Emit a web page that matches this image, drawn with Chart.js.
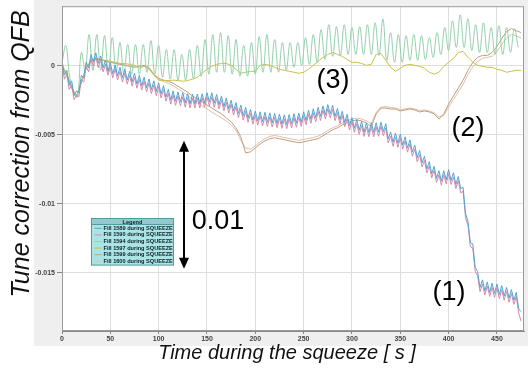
<!DOCTYPE html>
<html>
<head>
<meta charset="utf-8">
<script src="https://cdn.jsdelivr.net/npm/chart.js@4/dist/chart.umd.min.js"></script>
<style>
html,body{margin:0;padding:0;background:#ffffff;}
#wrap{position:relative;width:528px;height:370px;}
</style>
</head>
<body>
<div id="wrap"><canvas id="c" width="528" height="370"></canvas></div>
<script>
// ---------- data ----------
const seriesNames = [
  'Fill 1589 during SQUEEZE','Fill 1590 during SQUEEZE','Fill 1594 during SQUEEZE',
  'Fill 1597 during SQUEEZE','Fill 1599 during SQUEEZE','Fill 1600 during SQUEEZE'
];
const xTitle = 'Time during the squeeze [ s ]';
const yTitle = 'Tune correction from QFB';

const bandStep = 2.5;   // s between samples of fills 1589 / 1590
const greenStep = 4;    // s between samples of fill 1594
const slowStep = 5;     // s between samples of fills 1597 / 1599 / 1600

const fill1589 = [0.00038,-0.00068,-0.00034,-0.00142,-0.0011,-0.00216,-0.00183,-0.00195,-0.0007,-0.0009,
0.00025,-0.00015,0.0008,0.00025,0.00092,0.00016,0.0007,-0.00015,0.0004,-0.0004,
0.0002,-0.00058,0.00004,-0.00074,-0.00012,-0.00089,-0.00026,-0.00104,-0.00041,-0.00118,
-0.00055,-0.00133,-0.0007,-0.00147,-0.00084,-0.0016,-0.00097,-0.00173,-0.0011,-0.00187,
-0.00124,-0.00204,-0.00145,-0.00227,-0.00172,-0.00249,-0.00183,-0.00257,-0.0019,-0.00262,
-0.00196,-0.0027,-0.00203,-0.00276,-0.00206,-0.00276,-0.00206,-0.00276,-0.00203,-0.0027,
-0.00196,-0.00262,-0.00196,-0.00272,-0.00208,-0.00283,-0.0022,-0.00297,-0.00234,-0.00312,
-0.0025,-0.00328,-0.00267,-0.00346,-0.00285,-0.00364,-0.00302,-0.0038,-0.00317,-0.00394,
-0.00329,-0.00401,-0.00334,-0.00406,-0.00338,-0.0041,-0.00342,-0.00414,-0.00346,-0.00419,
-0.00351,-0.00423,-0.00356,-0.00427,-0.00354,-0.0042,-0.00348,-0.00416,-0.00343,-0.0041,
-0.00334,-0.00398,-0.00323,-0.00388,-0.00312,-0.00377,-0.00302,-0.00367,-0.00292,-0.00357,
-0.00282,-0.00348,-0.00288,-0.00368,-0.0031,-0.0039,-0.0033,-0.00412,-0.00353,-0.00435,
-0.00376,-0.00453,-0.0039,-0.00467,-0.00405,-0.00482,-0.00414,-0.00484,-0.00414,-0.00484,
-0.00413,-0.00481,-0.00409,-0.00477,-0.0042,-0.0053,-0.0048,-0.00554,-0.00488,-0.00561,
-0.00495,-0.00575,-0.00515,-0.00596,-0.00537,-0.00626,-0.00575,-0.00665,-0.00614,-0.00703,
-0.00656,-0.00747,-0.00695,-0.00782,-0.00728,-0.00815,-0.0076,-0.00835,-0.0076,-0.00826,
-0.00752,-0.0083,-0.00775,-0.0086,-0.00802,-0.0089,-0.0088,-0.0107,-0.01125,-0.0128,
-0.0129,-0.0146,-0.0149,-0.01605,-0.0155,-0.0163,-0.01565,-0.0164,-0.01574,-0.01647,
-0.0158,-0.01656,-0.01592,-0.01668,-0.01605,-0.01682,-0.0162,-0.01697,-0.0164,-0.0176,
-0.0178];

const fill1590 = [0.00008,-0.00098,-0.00064,-0.00172,-0.0014,-0.00246,-0.00213,-0.00225,-0.001,-0.0012,
-0.00005,-0.00045,0.0005,-0.00005,0.00062,-0.00014,0.0004,-0.00045,0.0001,-0.0007,
-0.0001,-0.00088,-0.00026,-0.00104,-0.00042,-0.00119,-0.00056,-0.00134,-0.00071,-0.00148,
-0.00085,-0.00163,-0.001,-0.00177,-0.00114,-0.0019,-0.00127,-0.00203,-0.0014,-0.00217,
-0.00154,-0.00234,-0.00175,-0.00257,-0.00202,-0.00279,-0.00213,-0.00287,-0.0022,-0.00292,
-0.00226,-0.003,-0.00233,-0.00306,-0.00236,-0.00306,-0.00236,-0.00306,-0.00233,-0.003,
-0.00226,-0.00292,-0.00226,-0.00302,-0.00238,-0.00313,-0.0025,-0.00327,-0.00264,-0.00342,
-0.0028,-0.00358,-0.00297,-0.00376,-0.00315,-0.00394,-0.00332,-0.0041,-0.00347,-0.00424,
-0.00359,-0.00431,-0.00364,-0.00436,-0.00368,-0.0044,-0.00372,-0.00444,-0.00376,-0.00449,
-0.00381,-0.00453,-0.00386,-0.00457,-0.00384,-0.0045,-0.00378,-0.00446,-0.00373,-0.0044,
-0.00364,-0.00428,-0.00353,-0.00418,-0.00342,-0.00407,-0.00332,-0.00397,-0.00322,-0.00387,
-0.00312,-0.00378,-0.00318,-0.00398,-0.0034,-0.0042,-0.0036,-0.00442,-0.00383,-0.00465,
-0.00406,-0.00483,-0.0042,-0.00497,-0.00435,-0.00512,-0.00444,-0.00514,-0.00444,-0.00514,
-0.00443,-0.00511,-0.00439,-0.00507,-0.0045,-0.0056,-0.0051,-0.00584,-0.00518,-0.00591,
-0.00525,-0.00605,-0.00545,-0.00626,-0.00567,-0.00656,-0.00605,-0.00695,-0.00644,-0.00733,
-0.00686,-0.00777,-0.00725,-0.00812,-0.00758,-0.00845,-0.0079,-0.00865,-0.0079,-0.00856,
-0.00782,-0.0086,-0.00805,-0.0089,-0.00832,-0.0092,-0.0091,-0.011,-0.01155,-0.0131,
-0.0132,-0.0149,-0.0152,-0.01635,-0.0158,-0.0166,-0.01595,-0.0167,-0.01604,-0.01677,
-0.0161,-0.01686,-0.01622,-0.01698,-0.01635,-0.01712,-0.0165,-0.01727,-0.0167,-0.0179,
-0.0185];

const fill1594 = [0.00024,0.00146,-0.00084,-0.00192,-0.00227,0.00095,-0.00034,0.00225,-0.00034,0.00225,
-0.00034,0.00217,-0.00048,0.00203,-0.00048,0.00167,-0.00062,0.00153,-0.00062,0.00153,
-0.00062,0.00153,-0.00048,0.00182,-0.00062,0.00146,-0.00084,0.00117,-0.00098,0.00117,
-0.00105,0.00081,-0.00105,0.00117,-0.00091,0.00146,-0.00077,0.00189,-0.00062,0.00225,
-0.00048,0.00239,-0.00048,0.00217,-0.00062,0.00189,-0.00077,0.00146,-0.00077,0.00167,
-0.00062,0.0021,-0.00048,0.00225,-0.00048,0.00189,-0.00048,0.00167,-0.00034,0.00167,
-0.00012,0.00167,0.00002,0.00203,0.00009,0.00225,0.00024,0.0026,0.00045,0.00296,
0.00067,0.00282,0.00074,0.00296,0.00081,0.00275,0.00081,0.00282,0.00081,0.00296,
0.00081,0.0031,0.00074,0.00339,0.00038,0.00239,0.00024,0.00225,0.00024,0.00217,
0.00038,0.00225,0.00038,0.00217,0.00045,0.00203,0.0006,0.00239,0.00081,0.00275,
0.0011,0.00325,0.00131,0.00368,0.00131,0.00339,0.0011,0.00296,0.00095,0.0031,
0.00095,0.00275,0.00081,0.00289,0.00081,0.00275,0.00095,0.00268,0.00131];

const fill1597 = [0.00002,-0.00062,-0.00156,-0.0022,-0.0012,-0.00019,0.00031,0.00045,0.00045,0.00038,
0.00031,0.00024,0.00016,0.00016,0.00009,0.00002,-0.00019,-0.00005,-0.00012,-0.00062,
-0.00105,-0.00108,-0.00108,-0.00105,-0.00108,-0.00113,-0.00108,-0.00098,-0.00084,-0.00055,
-0.00027,-0.00005,0.00009,0.00016,0.00016,0.00002,-0.00027,-0.00055,-0.00048,-0.00041,
-0.00041,0.00002,0.00009,0.00002,-0.00012,-0.00027,-0.00034,-0.00041,-0.00048,-0.00055,
-0.00048,-0.00027,0.00002,0.00031,0.0006,0.00081,0.00095,0.00081,0.00067,0.00045,
0.00024,0.00024,0.00016,0.00002,0.00009,0.00081,0.00088,0.00038,-0.00012,-0.00041,
-0.00019,0.00002,0.00009,0.00002,-0.00005,-0.00019,-0.00048,-0.00062,-0.00048,-0.00005,
0.00024,0.00052,0.00095,0.00103,0.0006,0.00024,0.00002,-0.00005,-0.00012,-0.00012,
-0.00027,-0.00034,-0.00048,-0.00041,-0.00034,-0.00034];

const fill1599 = [0.00002,-0.0007,-0.00163,-0.00227,-0.0012,-0.00019,0.00038,0.00052,0.00045,0.00031,
0.00024,0.00016,0.00009,0.00002,-0.00005,-0.00012,-0.00005,0.00002,-0.00019,-0.00062,
-0.00091,-0.00105,-0.00113,-0.00127,-0.00149,-0.00171,-0.00192,-0.0022,-0.00242,-0.00263,
-0.00285,-0.00307,-0.00328,-0.00349,-0.00378,-0.00407,-0.0045,-0.00515,-0.00631,-0.00624,
-0.00596,-0.00567,-0.00544,-0.00529,-0.00522,-0.00529,-0.00536,-0.00544,-0.00551,-0.00558,
-0.00551,-0.00544,-0.00536,-0.00529,-0.00507,-0.00486,-0.00464,-0.0045,-0.00429,-0.00415,
-0.004,-0.00393,-0.004,-0.00415,-0.00443,-0.0035,-0.00307,-0.00307,-0.00314,-0.00314,
-0.00328,-0.00321,-0.00314,-0.00321,-0.00335,-0.00328,-0.00335,-0.00349,-0.00386,-0.00349,
-0.00278,-0.0022,-0.00163,-0.00105,-0.00034,0.00024,0.0006,0.00074,0.00074,0.00095,
0.00138,0.00196,0.00246,0.00268,0.00253,0.00239];

const fill1600 = [0.00005,-0.00066,-0.0016,-0.00224,-0.00125,-0.00022,0.00034,0.00048,0.00042,0.00034,
0.00027,0.00019,0.00012,0.00005,-0.00002,-0.00009,-0.00002,-0.00002,-0.00026,-0.0007,
-0.001,-0.00115,-0.00127,-0.00145,-0.00168,-0.00192,-0.00215,-0.00245,-0.0027,-0.00292,
-0.00314,-0.00336,-0.00357,-0.00378,-0.004,-0.00428,-0.00466,-0.0054,-0.00595,-0.00605,
-0.0058,-0.00552,-0.00527,-0.00512,-0.00505,-0.00512,-0.0052,-0.00527,-0.00534,-0.0054,
-0.00534,-0.00527,-0.0052,-0.0051,-0.00492,-0.0047,-0.0045,-0.00436,-0.00415,-0.004,
-0.00386,-0.0038,-0.00386,-0.004,-0.0042,-0.0034,-0.003,-0.00296,-0.00303,-0.00307,
-0.00318,-0.00314,-0.00307,-0.00314,-0.00325,-0.00321,-0.00328,-0.0034,-0.00372,-0.0036,
-0.003,-0.00245,-0.0019,-0.00135,-0.00065,-0.0001,0.0003,0.00052,0.0006,0.00067,
0.001,0.00153,0.002,0.00225,0.00215,0.002];

const xTicks = [0,50,100,150,200,250,300,350,400,450];
const yTicks = [0,-0.005,-0.01,-0.015];
const xRange = [0,478];
const yRange = [-0.0192,0.0043];

const annotationTexts = ['(3)','(2)','(1)','0.01'];
const annotationT = [280.4,420.1,400.4,161.4];
const annotationV = [-0.00107,-0.00458,-0.01641,-0.01125];
const arrowT = 126.2;
const arrowFrom = -0.00544;
const arrowTo = -0.01469;
const legendAnchorT = 30.0;
const legendAnchorV = -0.01103;

// ---------- styling ----------
const colors = ['#55a3d3','#d68aa9','#92d0ab','#c9c046','#c49c7c','#dcc0aa'];
const steps = [bandStep,bandStep,greenStep,slowStep,slowStep,slowStep];
const values = [fill1589,fill1590,fill1594,fill1597,fill1599,fill1600];

function toPoints(vals, step){ return vals.map((v,i)=>({x:i*step, y:v})); }

const datasets = values.map((vals,k)=>({
  label: seriesNames[k],
  data: toPoints(vals, steps[k]),
  borderColor: colors[k],
  backgroundColor: colors[k],
  borderWidth: 1,
  pointRadius: 0,
  fill: false,
  tension: k===2 ? 0.4 : 0
}));

const FONT = 'Liberation Sans, Arial, sans-serif';

const bgPlugin = {
  id:'bg',
  beforeDraw(chart){
    const {ctx, chartArea:a, width, height} = chart;
    ctx.save();
    ctx.fillStyle='#ffffff'; ctx.fillRect(0,0,width,height);
    ctx.fillStyle='#efefef'; ctx.fillRect(34,0,width-34,346);
    ctx.fillStyle='#ffffff'; ctx.fillRect(a.left,a.top,a.right-a.left,a.bottom-a.top);
    ctx.restore();
  }
};

const overlayPlugin = {
  id:'overlay',
  afterDraw(chart){
    const {ctx, chartArea:a} = chart;
    const xs = chart.scales.x, ys = chart.scales.y;
    ctx.save();
    // frame
    ctx.strokeStyle='#9a9a9a'; ctx.lineWidth=1;
    ctx.strokeRect(a.left+0.5,a.top+0.5,a.right-a.left-1,a.bottom-a.top-1);
    // axis titles
    ctx.fillStyle='#111'; ctx.textAlign='center'; ctx.textBaseline='middle';
    ctx.font = 'italic 20px ' + FONT;
    ctx.fillText(xTitle, 287, 353);
    ctx.save();
    ctx.translate(22.5, 154); ctx.rotate(-Math.PI/2);
    ctx.font = 'italic 25px ' + FONT;
    ctx.fillText(yTitle, 0, 0);
    ctx.restore();
    // annotation texts
    ctx.fillStyle='#000';
    ctx.font = '27px ' + FONT;
    annotationTexts.forEach((t,i)=>{
      ctx.fillText(t, xs.getPixelForValue(annotationT[i]), ys.getPixelForValue(annotationV[i]));
    });
    // double arrow
    const ax = Math.round(xs.getPixelForValue(arrowT));
    const y1 = ys.getPixelForValue(arrowFrom), y2 = ys.getPixelForValue(arrowTo);
    const hl = 11, hw = 5;
    ctx.strokeStyle='#000'; ctx.lineWidth=2;
    ctx.beginPath(); ctx.moveTo(ax,y1+hl-1); ctx.lineTo(ax,y2-hl+1); ctx.stroke();
    ctx.beginPath(); ctx.moveTo(ax,y1); ctx.lineTo(ax-hw,y1+hl); ctx.lineTo(ax+hw,y1+hl); ctx.closePath(); ctx.fill();
    ctx.beginPath(); ctx.moveTo(ax,y2); ctx.lineTo(ax-hw,y2-hl); ctx.lineTo(ax+hw,y2-hl); ctx.closePath(); ctx.fill();
    // legend box
    const lx = Math.round(xs.getPixelForValue(legendAnchorT))+0.5;
    const ly = Math.round(ys.getPixelForValue(legendAnchorV))+0.5;
    const lw = 82, hh = 6, rh = 6.6, lh = hh + rh*seriesNames.length + 1;
    ctx.fillStyle='#aae4e4'; ctx.fillRect(lx,ly,lw,lh);
    ctx.fillStyle='#8ccece'; ctx.fillRect(lx,ly,lw,hh);
    ctx.strokeStyle='#4e9c9c'; ctx.lineWidth=1; ctx.strokeRect(lx,ly,lw,lh);
    ctx.beginPath(); ctx.moveTo(lx,ly+hh); ctx.lineTo(lx+lw,ly+hh); ctx.stroke();
    ctx.fillStyle='#10202a'; ctx.font='bold 5.6px ' + FONT;
    ctx.textAlign='center'; ctx.textBaseline='middle';
    ctx.fillText('Legend', lx+lw/2, ly+hh/2+0.5);
    ctx.textAlign='left';
    seriesNames.forEach((n,i)=>{
      const cy = ly + hh + rh*i + rh/2 + 0.5;
      ctx.strokeStyle = colors[i]; ctx.lineWidth=1;
      ctx.beginPath(); ctx.moveTo(lx+3,cy); ctx.lineTo(lx+10,cy); ctx.stroke();
      ctx.fillStyle='#10202a';
      ctx.fillText(n, lx+12, cy);
    });
    ctx.restore();
  }
};

new Chart(document.getElementById('c'), {
  type:'line',
  data:{datasets},
  options:{
    responsive:false,
    animation:false,
    devicePixelRatio:1,
    layout:{padding:{left:0,right:4,top:3,bottom:0}},
    plugins:{legend:{display:false}, tooltip:{enabled:false}},
    scales:{
      x:{
        type:'linear', min:xRange[0], max:xRange[1],
        afterBuildTicks:s=>{ s.ticks = xTicks.map(v=>({value:v})); },
        afterFit:s=>{ s.height = 39; },
        ticks:{font:{family:FONT,size:7,weight:'bold'}, color:'#444', padding:1, maxRotation:0, autoSkip:false},
        grid:{color:'#dedede', tickColor:'#888', tickLength:3, lineWidth:1},
        border:{color:'#888'},
        title:{display:false, text:xTitle}
      },
      y:{
        type:'linear', min:yRange[0], max:yRange[1],
        afterBuildTicks:s=>{ s.ticks = yTicks.map(v=>({value:v})); },
        afterFit:s=>{ s.width = 62; },
        ticks:{font:{family:FONT,size:7,weight:'bold'}, color:'#444', padding:2, callback:v=>String(v)},
        grid:{color:'#dedede', tickColor:'#888', tickLength:5, lineWidth:1},
        border:{color:'#888'},
        title:{display:false, text:yTitle}
      }
    }
  },
  plugins:[bgPlugin, overlayPlugin]
});
</script>
</body>
</html>
